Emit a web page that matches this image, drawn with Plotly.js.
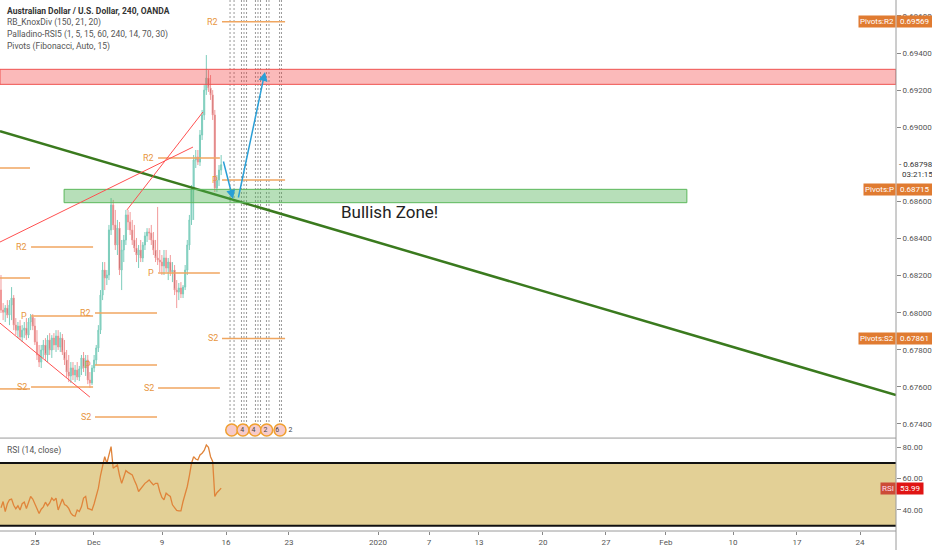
<!DOCTYPE html>
<html><head><meta charset="utf-8">
<script src="https://cdn.plot.ly/plotly-3.0.1.min.js"></script>
<style>html,body{margin:0;padding:0;background:#fff}#chart{width:932px;height:550px}</style>
</head><body><div id="chart"></div>
<script>
// ---- 4h candles, AUDUSD (OANDA) ----
const open = [0.68122,0.68014,0.68003,0.68025,0.67987,0.68041,0.68079,0.67933,0.67906,0.67928,
0.67869,0.67906,0.67917,0.67879,0.67950,0.67976,0.67928,0.67842,0.67772,0.67734,
0.67799,0.67826,0.67772,0.67853,0.67799,0.67863,0.67826,0.67874,0.67815,0.67863,
0.67788,0.67745,0.67680,0.67659,0.67702,0.67664,0.67691,0.67653,0.67697,0.67756,
0.67702,0.67745,0.67637,0.67621,0.67702,0.67745,0.67810,0.67906,0.68095,0.68230,
0.68187,0.68203,0.68446,0.68581,0.68473,0.68365,0.68456,0.68230,0.68338,0.68392,
0.68527,0.68489,0.68446,0.68392,0.68349,0.68311,0.68338,0.68295,0.68365,0.68414,
0.68435,0.68430,0.68392,0.68338,0.68295,0.68284,0.68273,0.68252,0.68295,0.68241,
0.68273,0.68219,0.68230,0.68122,0.68111,0.68133,0.68101,0.68138,0.68230,0.68365,
0.68500,0.68661,0.68823,0.68839,0.68812,0.68958,0.69066,0.69200,0.69265,0.69211,
0.69174,0.69066,0.68672,0.68715,0.68769];
const high = [0.68203,0.68052,0.68041,0.68068,0.68068,0.68138,0.68095,0.67971,0.67950,0.67960,
0.67933,0.67950,0.67971,0.67971,0.67993,0.67993,0.67971,0.67906,0.67826,0.67826,
0.67853,0.67863,0.67879,0.67890,0.67879,0.67890,0.67906,0.67906,0.67895,0.67885,
0.67853,0.67799,0.67772,0.67734,0.67734,0.67718,0.67734,0.67713,0.67772,0.67788,
0.67772,0.67772,0.67680,0.67718,0.67772,0.67826,0.67933,0.68122,0.68273,0.68273,
0.68230,0.68473,0.68618,0.68608,0.68554,0.68500,0.68489,0.68392,0.68419,0.68554,
0.68554,0.68543,0.68500,0.68473,0.68403,0.68365,0.68392,0.68381,0.68435,0.68456,
0.68456,0.68473,0.68435,0.68392,0.68570,0.68338,0.68311,0.68338,0.68338,0.68295,
0.68311,0.68273,0.68257,0.68176,0.68160,0.68165,0.68149,0.68257,0.68392,0.68527,
0.68688,0.68850,0.68877,0.68877,0.68985,0.69093,0.69227,0.69389,0.69308,0.69281,
0.69200,0.69093,0.68742,0.68796,0.68850];
const low = [0.67998,0.67960,0.67950,0.67971,0.67933,0.67960,0.67906,0.67879,0.67863,0.67853,
0.67842,0.67863,0.67853,0.67863,0.67906,0.67906,0.67826,0.67745,0.67707,0.67702,
0.67756,0.67745,0.67734,0.67772,0.67756,0.67799,0.67788,0.67799,0.67788,0.67772,
0.67718,0.67648,0.67626,0.67621,0.67637,0.67626,0.67637,0.67632,0.67664,0.67680,
0.67659,0.67615,0.67594,0.67610,0.67680,0.67718,0.67788,0.67885,0.68068,0.68122,
0.68149,0.68176,0.68419,0.68446,0.68338,0.68311,0.68203,0.68122,0.68273,0.68365,
0.68446,0.68419,0.68365,0.68327,0.68273,0.68241,0.68273,0.68273,0.68338,0.68381,
0.68392,0.68365,0.68311,0.68273,0.68257,0.68219,0.68203,0.68203,0.68219,0.68176,
0.68198,0.68165,0.68095,0.68025,0.68068,0.68079,0.68079,0.68122,0.68203,0.68338,
0.68473,0.68500,0.68780,0.68796,0.68791,0.68931,0.69039,0.69174,0.69190,0.69147,
0.69039,0.68651,0.68651,0.68683,0.68742];
const close = [0.68014,0.68003,0.68025,0.67987,0.68041,0.68079,0.67933,0.67906,0.67928,0.67869,
0.67906,0.67917,0.67879,0.67950,0.67976,0.67928,0.67842,0.67772,0.67734,0.67799,
0.67826,0.67772,0.67853,0.67799,0.67863,0.67826,0.67874,0.67815,0.67863,0.67788,
0.67745,0.67680,0.67659,0.67702,0.67664,0.67691,0.67653,0.67697,0.67756,0.67702,
0.67745,0.67637,0.67621,0.67702,0.67745,0.67810,0.67906,0.68095,0.68230,0.68187,
0.68203,0.68446,0.68581,0.68473,0.68365,0.68456,0.68230,0.68338,0.68392,0.68527,
0.68489,0.68446,0.68392,0.68349,0.68311,0.68338,0.68295,0.68365,0.68414,0.68435,
0.68430,0.68392,0.68338,0.68295,0.68284,0.68273,0.68252,0.68295,0.68241,0.68273,
0.68219,0.68230,0.68122,0.68111,0.68133,0.68101,0.68138,0.68230,0.68365,0.68500,
0.68661,0.68823,0.68839,0.68812,0.68958,0.69066,0.69200,0.69265,0.69211,0.69174,
0.69066,0.68672,0.68715,0.68769,0.68798];
// RSI(14, close), one value per bar
const rsi = [41.4,45.4,39,44,46.5,47,43,40.8,42.7,40,
44,45,41,45,48.6,47,44,41.4,37.8,40.5,
42,45,42.7,44.5,47.6,46,47.6,40,44,47,
43.5,42.7,41,38,36.5,36,40,39,42,47.6,
48.6,41,40.6,40,44,48.6,53.9,62,67.7,74,
69.8,75,80.4,66.6,67.5,68.7,62,57,61,65.1,
64,63,62.4,59,56,51.8,53.5,55.4,57,58,
59.2,57.5,56,57,57,51.8,48,46.5,50.7,49.5,
48.6,43.3,41.5,39.7,39.5,39.5,45.4,50,55,62,
69.8,74,72.5,71.9,75.1,76.2,78,81.5,80,74,
71,48.6,51,52.4,53.99];
const bars = close.map((_, i) => i); // bar index (4h bars, weekends skipped)

// time axis labels (bar index of each date)
const xTickBars = [16.1, 43.9, 76.1, 106.3, 136.0, 178.1, 202.2, 225.8, 256.0, 285.8, 314.1, 345.8, 376.0, 405.8];
const xTickText = ['25', 'Dec', '9', '16', '23', '2020', '7', '13', '20', '27', 'Feb', '10', '17', '24'];
// 0.68800 is hidden behind the last-price label on the original
const priceTicks = [0.674, 0.676, 0.678, 0.680, 0.682, 0.684, 0.686, 0.690, 0.692, 0.694, 0.696];
const rsiTicks = [40, 60, 80];

// weekly Fibonacci pivots
const pivotStart = [-0.47, 14.2, 44.4, 74.2, 104.4];
const pivotEnd = [13.7, 43.5, 73.7, 103.4, 134.2];
const pivotR2 = [0.68780, 0.68354, 0.67998, 0.68834, 0.69569];
const pivotP = [0.68187, 0.67982, 0.67718, 0.68214, 0.68715];
const pivotS2 = [0.67589, 0.67599, 0.67438, 0.67594, 0.67861];

// drawings (time in bars, price)
const trendX = [-0.47, 422.8];
const trendY = [0.68979, 0.67556];
const divX0 = [-0.47, 59.5, -0.47], divY0 = [0.68381, 0.68554, 0.67944];
const divX1 = [90.7, 95.4, 42.0], divY1 = [0.68893, 0.69082, 0.67545];
const resistZone = [0.69231, 0.69312];
const bullZone = [0.68593, 0.68665];
const bullZoneX = [29.8, 324.0];
const arrowTailX = [104.9, 112.0], arrowTailY = [0.68823, 0.68613];
const arrowHeadX = [109.6, 124.7], arrowHeadY = [0.68613, 0.69298];

// upcoming events
const eventBars = [108.2, 110.1, 113.6, 114.8, 116.0, 120.2, 121.4, 122.6, 125.4, 126.6, 131.6, 132.5];
const iconBars = [109.0, 114.3, 120.0, 125.5, 131.8];
const iconCounts = ['4', '4', '2', '6', '2'];

const X0 = -0.47, X1 = 422.8;
const YTOP = 0.696857, YBOT = 0.673298;
const FONT = 'Roboto, "Liberation Sans", sans-serif';

// pivot line trace
const pvX = [], pvY = [];
[pivotR2, pivotP, pivotS2].forEach(arr => {
  arr.forEach((v, i) => { pvX.push(pivotStart[i], pivotEnd[i], null); pvY.push(v, v, null); });
});
const evX = [], evY = [];
eventBars.forEach(b => { evX.push(b, b, null); evY.push(YTOP, 0.67395, null); });

const traces = [
  {type:'scatter', mode:'lines', x:evX, y:evY, line:{color:'#9a9a9a', width:1, dash:'2px,2px'}, hoverinfo:'skip'},
  {type:'scatter', mode:'lines', x:pvX, y:pvY, line:{color:'#f0a660', width:1.5}, hoverinfo:'skip'},
  {type:'candlestick', x:bars, open:open, high:high, low:low, close:close,
    increasing:{line:{color:'#7dcdbc', width:1}, fillcolor:'#93d8ca'},
    decreasing:{line:{color:'#f29a9a', width:1}, fillcolor:'#7a1414'},
    whiskerwidth:0, hoverinfo:'skip'},
  {type:'scatter', mode:'lines', x:trendX, y:trendY, line:{color:'#3a7a1e', width:2.5}, hoverinfo:'skip'},
  {type:'scatter', mode:'markers+text', x:iconBars, y:iconBars.map(() => 0.67368), text:iconCounts,
    textposition:'middle right', textfont:{size:7, color:'#444', family:FONT},
    marker:{size:12, color:'#f6caca', line:{color:'#f0a030', width:1.5}}, hoverinfo:'skip', cliponaxis:false},
  {type:'scatter', mode:'lines', x:bars, y:rsi, xaxis:'x', yaxis:'y2', line:{color:'#e0843a', width:1.3}, hoverinfo:'skip'}
];

const shapes = [
  {type:'rect', xref:'x', yref:'y2', x0:X0, x1:X1, y0:30, y1:70, fillcolor:'#e3d096', line:{width:0}, layer:'below'},
  {type:'line', xref:'x', yref:'y2', x0:X0, x1:X1, y0:70, y1:70, line:{color:'#111', width:2}},
  {type:'line', xref:'x', yref:'y2', x0:X0, x1:X1, y0:30, y1:30, line:{color:'#111', width:2}},
  {type:'rect', xref:'x', yref:'y', x0:X0, x1:X1, y0:resistZone[0], y1:resistZone[1], fillcolor:'rgba(242,54,54,0.34)', line:{color:'#ef5350', width:1}, layer:'above'},
  {type:'rect', xref:'x', yref:'y', x0:bullZoneX[0], x1:bullZoneX[1], y0:bullZone[0], y1:bullZone[1], fillcolor:'rgba(76,175,80,0.4)', line:{color:'#5cb85c', width:1}, layer:'above'},
  {type:'line', xref:'paper', yref:'paper', x0:0, x1:1, y0:0.175, y1:0.175, line:{color:'#9a9a9a', width:1}},
  {type:'line', xref:'paper', yref:'paper', x0:0, x1:1, y0:0, y1:0, line:{color:'#9a9a9a', width:1}},
  {type:'line', xref:'paper', yref:'paper', x0:1, x1:1, y0:-0.04, y1:1, line:{color:'#9a9a9a', width:1}}
];
divX0.forEach((x, i) => shapes.push({type:'line', xref:'x', yref:'y', x0:x, y0:divY0[i], x1:divX1[i], y1:divY1[i], line:{color:'#ff5050', width:1}}));

const ann = [];
const leg = [['<b>Australian Dollar / U.S. Dollar, 240, OANDA</b>', 0.9793, '#333'],
  ['RB_KnoxDiv (150, 21, 20)', 0.9567, '#555'],
  ['Palladino-RSI5 (1, 5, 15, 60, 240, 14, 70, 30)', 0.9341, '#555'],
  ['Pivots (Fibonacci, Auto, 15)', 0.9115, '#555'],
  ['RSI (14, close)', 0.1507, '#555']];
leg.forEach(l => ann.push({xref:'paper', yref:'paper', x:0.0056, y:l[1], xanchor:'left', yanchor:'middle', text:l[0], showarrow:false, font:{size:8.5, color:l[2], family:FONT}}));
// pivot labels (weeks 1..4)
for (let i = 1; i < pivotStart.length; i++) {
  [['R2', pivotR2[i]], ['P', pivotP[i]], ['S2', pivotS2[i]]].forEach(p => {
    ann.push({xref:'x', yref:'y', x:pivotStart[i], y:p[1], xanchor:'right', yanchor:'middle', xshift:-2, text:p[0], showarrow:false, font:{size:9, color:'#e8963f', family:FONT}});
  });
}
// arrows
arrowHeadX.forEach((x, i) => ann.push({xref:'x', yref:'y', axref:'x', ayref:'y', x:x, y:arrowHeadY[i], ax:arrowTailX[i], ay:arrowTailY[i], text:'', showarrow:true, arrowhead:2, arrowsize:1.2, arrowwidth:1.5, arrowcolor:'#2a9fd6'}));
ann.push({xref:'x', yref:'y', x:183.7, y:0.68543, text:'Bullish Zone!', showarrow:false, font:{size:17, color:'#222', family:FONT}});
// axis price labels (P label pushed down to clear the last-price label, as on the original)
const pl = [['Pivots:R2', pivotR2[4], 0], ['Pivots:P', pivotP[4], -9], ['Pivots:S2', pivotS2[4], 0]];
pl.forEach(p => {
  ann.push({xref:'paper', yref:'y', x:1, y:p[1], yshift:p[2], xanchor:'right', yanchor:'middle', text:p[0], showarrow:false, bgcolor:'#e07b31', borderpad:1, font:{size:8, color:'#fff', family:FONT}});
  ann.push({xref:'paper', yref:'y', x:1, y:p[1], yshift:p[2], xanchor:'left', yanchor:'middle', text:' ' + p[1].toFixed(5) + '  ', showarrow:false, bgcolor:'#e07b31', borderpad:1, font:{size:8, color:'#fff', family:FONT}});
});
const last = close[close.length - 1];
ann.push({xref:'paper', yref:'y', x:1, y:last, xanchor:'left', yanchor:'middle', xshift:1, text:'- ' + last.toFixed(5), showarrow:false, font:{size:8, color:'#333', family:FONT}});
ann.push({xref:'paper', yref:'y', x:1, y:last, xanchor:'left', yanchor:'middle', xshift:4, yshift:-10, text:'03:21:15', showarrow:false, font:{size:8, color:'#333', family:FONT}});
const lastRsi = rsi[rsi.length - 1];
ann.push({xref:'paper', yref:'y2', x:1, y:lastRsi, xanchor:'right', yanchor:'middle', text:'RSI', showarrow:false, bgcolor:'#cc4b37', borderpad:1, font:{size:8, color:'#fde', family:FONT}});
ann.push({xref:'paper', yref:'y2', x:1, y:lastRsi, xanchor:'left', yanchor:'middle', text:' ' + lastRsi.toFixed(2) + ' ', showarrow:false, bgcolor:'#e01414', borderpad:1, font:{size:8, color:'#fff', family:FONT}});

const layout = {
  width:932, height:550, margin:{l:0, r:36, t:0, b:19, pad:0},
  paper_bgcolor:'#fff', plot_bgcolor:'#fff', showlegend:false,
  font:{family:FONT, size:8, color:'#555'},
  xaxis:{range:[X0, X1], anchor:'y2', tickvals:xTickBars, ticktext:xTickText, ticks:'outside', ticklen:3, tickcolor:'#888',
    showgrid:false, zeroline:false, showline:false, rangeslider:{visible:false}, tickfont:{size:8, color:'#555', family:FONT}},
  yaxis:{domain:[0.177, 1], range:[YBOT, YTOP], side:'right', tickvals:priceTicks, tickformat:'.5f', ticks:'outside', ticklen:4, tickcolor:'#888',
    showgrid:false, zeroline:false, showline:false, tickfont:{size:8, color:'#555', family:FONT}},
  yaxis2:{domain:[0, 0.1733], range:[26.6, 85.3], side:'right', tickvals:rsiTicks, tickformat:'.2f', ticks:'outside', ticklen:4, tickcolor:'#888',
    showgrid:false, zeroline:false, showline:false, tickfont:{size:8, color:'#555', family:FONT}},
  shapes:shapes, annotations:ann
};
Plotly.newPlot('chart', traces, layout, {displayModeBar:false, staticPlot:true});
</script></body></html>
